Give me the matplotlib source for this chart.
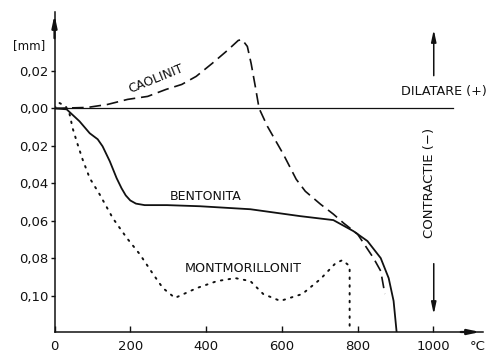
import matplotlib
matplotlib.use("Agg")
import matplotlib.pyplot as plt

# Dilatometric curves: temperature (°C) vs. length change (mm); contraction negative
caolinit_t = [0, 87, 140, 193, 246, 294, 336, 374, 416, 456, 485, 495, 509, 519, 530, 540,
              562, 604, 638, 662, 702, 736, 763, 800, 821, 842, 861, 872]
caolinit_v = [0.0, 0.0005, 0.0021, 0.0048, 0.0064, 0.0101, 0.0128, 0.0171, 0.024, 0.0309,
              0.0363, 0.0368, 0.0331, 0.024, 0.0117, 0.0, -0.0096, -0.0245, -0.0379,
              -0.0443, -0.0512, -0.0565, -0.0613, -0.0672, -0.0736, -0.080, -0.0869, -0.0992]

bentonita_t = [0, 32, 66, 93, 114, 127, 146, 164, 177, 188, 200, 215, 238, 297, 384, 517,
               649, 736, 789, 826, 861, 882, 895, 903]
bentonita_v = [0.0, -0.0005, -0.0069, -0.0133, -0.0165, -0.0203, -0.0283, -0.0373, -0.0427,
               -0.0465, -0.0492, -0.0509, -0.0517, -0.0517, -0.0523, -0.0539, -0.0576,
               -0.0597, -0.0656, -0.0709, -0.080, -0.0907, -0.1029, -0.1195]

montmorillonit_t = [0, 12, 30, 40, 48, 61, 74, 93, 119, 154, 191, 225, 260, 286, 318, 376,
                    429, 477, 517, 551, 596, 654, 702, 742, 760, 779, 779]
montmorillonit_v = [0.0, 0.003, 0.001, -0.0032, -0.0107, -0.0192, -0.0272, -0.0373, -0.0459,
                    -0.0587, -0.0693, -0.0779, -0.0885, -0.096, -0.1013, -0.096, -0.0923,
                    -0.0907, -0.0923, -0.0992, -0.1029, -0.0992, -0.0912, -0.0827, -0.0811,
                    -0.0843, -0.1163]

x_ticks = [0, 200, 400, 600, 800, 1000]
x_tick_labels = ["0", "200", "400", "600", "800", "1000"]
y_ticks = [0.02, 0.0, -0.02, -0.04, -0.06, -0.08, -0.10]
y_tick_labels = ["0,02", "0,00", "0,02", "0,04", "0,06", "0,08", "0,10"]

fig = plt.figure(figsize=(4.96, 3.54), dpi=100)
W, H = 496, 354
left_px, right_px, top_px, bottom_px = 54.5, 483, 12, 332
ax = fig.add_axes([left_px / W, (H - bottom_px) / H,
                   (right_px - left_px) / W, (bottom_px - top_px) / H])
ax.set_xlim(0, 1131)
ax.set_ylim(-0.1195, 0.0515)

ink = "#111111"
for s in ("top", "right"):
    ax.spines[s].set_visible(False)
for s in ("left", "bottom"):
    ax.spines[s].set_linewidth(1.1)
    ax.spines[s].set_color(ink)

ax.set_xticks(x_ticks)
ax.set_xticklabels(x_tick_labels)
ax.set_yticks(y_ticks)
ax.set_yticklabels(y_tick_labels)
ax.tick_params(axis="x", direction="in", length=4, width=1, pad=6, labelsize=9.5, colors=ink)
ax.tick_params(axis="y", direction="out", length=3, width=1, pad=1.5, labelsize=9.5, colors=ink)

# zero (reference) line
ax.plot([0, 1052], [0, 0], color=ink, lw=0.9)

ax.plot(caolinit_t, caolinit_v, color=ink, lw=1.2, linestyle=(0, (7, 3.5)))
ax.plot(bentonita_t, bentonita_v, color=ink, lw=1.3, solid_joinstyle="round")
ax.plot(montmorillonit_t, montmorillonit_v, color=ink, lw=1.4, linestyle=(0, (0.8, 3.2)),
        dash_capstyle="round")

# axis arrows
arrow_head = "-|>,head_length=0.7,head_width=0.15"
ax.annotate("", xy=(0, 0.0515), xytext=(0, 0.036),
            arrowprops=dict(arrowstyle=arrow_head, color=ink, lw=1.6), annotation_clip=False)
ax.annotate("", xy=(1131, -0.1195), xytext=(1065, -0.1195),
            arrowprops=dict(arrowstyle=arrow_head, color=ink, lw=1.6), annotation_clip=False)

# dilatation / contraction arrows
ax.annotate("", xy=(1001, 0.0435), xytext=(1001, 0.0160),
            arrowprops=dict(arrowstyle=arrow_head, color=ink, lw=1.1))
ax.annotate("", xy=(1001, -0.1115), xytext=(1001, -0.0815),
            arrowprops=dict(arrowstyle=arrow_head, color=ink, lw=1.1))

ax.text(1028, 0.0088, "DILATARE (+)", fontsize=9.2, ha="center", va="center", color=ink)
ax.text(991, -0.0397, "CONTRACTIE (−)", fontsize=9.5, ha="center", va="center",
        rotation=90, color=ink)

ax.text(268, 0.0160, "CAOLINIT", fontsize=9, ha="center", va="center",
        rotation=22, color=ink)
ax.text(400, -0.0470, "BENTONITA", fontsize=9, ha="center", va="center", color=ink)
ax.text(498, -0.0853, "MONTMORILLONIT", fontsize=9.2, ha="center", va="center", color=ink)

fig.text(29 / W, 1 - 46 / H, "[mm]", fontsize=8.5, ha="center", va="center", color=ink)
fig.text(478 / W, 1 - 347 / H, "°C", fontsize=9.5, ha="center", va="center", color=ink)

fig.savefig("out.png", dpi=100, facecolor="white")
